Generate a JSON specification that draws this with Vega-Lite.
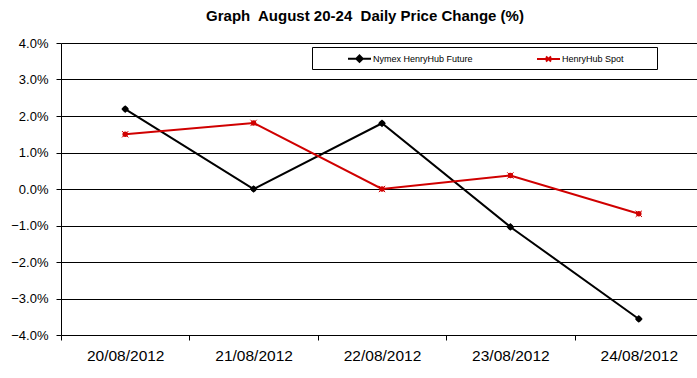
{
  "$schema": "https://vega.github.io/schema/vega-lite/v6.json",
  "autosize": "none",
  "width": 636,
  "height": 292,
  "padding": {"left": 61, "top": 43, "right": 0, "bottom": 43},
  "background": "white",
  "title": {
    "text": "Graph\u00a0 August 20-24\u00a0 Daily Price Change (%)",
    "font": "Liberation Sans",
    "fontSize": 15,
    "fontWeight": "bold",
    "color": "black",
    "anchor": "middle",
    "dx": -14,
    "offset": 13
  },
  "config": {
    "view": {"stroke": null},
    "axis": {
      "labelFont": "Liberation Sans",
      "labelColor": "black",
      "domainColor": "black",
      "tickColor": "black",
      "gridColor": "black",
      "gridOpacity": 1,
      "domainWidth": 1,
      "tickWidth": 1,
      "gridWidth": 1
    }
  },
  "data": {
    "values": [
      {"date": "20/08/2012", "series": "Nymex HenryHub Future", "change": 0.0219},
      {"date": "21/08/2012", "series": "Nymex HenryHub Future", "change": 0.0},
      {"date": "22/08/2012", "series": "Nymex HenryHub Future", "change": 0.018},
      {"date": "23/08/2012", "series": "Nymex HenryHub Future", "change": -0.0104},
      {"date": "24/08/2012", "series": "Nymex HenryHub Future", "change": -0.0356},
      {"date": "20/08/2012", "series": "HenryHub Spot", "change": 0.015},
      {"date": "21/08/2012", "series": "HenryHub Spot", "change": 0.0181},
      {"date": "22/08/2012", "series": "HenryHub Spot", "change": 0.0},
      {"date": "23/08/2012", "series": "HenryHub Spot", "change": 0.0037},
      {"date": "24/08/2012", "series": "HenryHub Spot", "change": -0.0068}
    ]
  },
  "encoding": {
    "x": {
      "field": "date",
      "type": "nominal",
      "sort": null,
      "scale": {"type": "band", "range": [0, 642], "paddingInner": 0, "paddingOuter": 0},
      "axis": {
        "title": null,
        "labelAngle": 0,
        "labelFontSize": 15.5,
        "labelPadding": 8,
        "tickBand": "extent",
        "tickSize": 5,
        "grid": false,
        "domain": true
      }
    },
    "y": {
      "field": "change",
      "type": "quantitative",
      "scale": {"domain": [-0.04, 0.04], "nice": false, "zero": false},
      "axis": {
        "title": null,
        "format": ".1%",
        "values": [-0.04, -0.03, -0.02, -0.01, 0, 0.01, 0.02, 0.03, 0.04],
        "labelFontSize": 13,
        "tickSize": 5,
        "labelPadding": 8,
        "grid": true
      }
    },
    "color": {
      "field": "series",
      "type": "nominal",
      "sort": ["Nymex HenryHub Future", "HenryHub Spot"],
      "scale": {"domain": ["Nymex HenryHub Future", "HenryHub Spot"], "range": ["#000000", "#d00000"]},
      "legend": {
        "title": "\u00a0",
        "titleOrient": "right",
        "titlePadding": 30,
        "titleFontSize": 9,
        "orient": "none",
        "legendX": 251,
        "legendY": 4,
        "direction": "horizontal",
        "strokeColor": "black",
        "fillColor": "white",
        "padding": 3,
        "labelFont": "Liberation Sans",
        "labelFontSize": 9,
        "labelColor": "black",
        "columnPadding": 31,
        "symbolSize": 207,
        "symbolStrokeWidth": 2,
        "symbolOpacity": 1,
        "symbolOffset": 36,
        "labelOffset": 5
      }
    },
    "shape": {
      "field": "series",
      "type": "nominal",
      "sort": ["Nymex HenryHub Future", "HenryHub Spot"],
      "scale": {
        "domain": ["Nymex HenryHub Future", "HenryHub Spot"],
        "range": ["M-1.6,0L1.6,0M0,-0.45L0.45,0L0,0.45L-0.45,0Z", "M-1.6,0L1.6,0M-0.35,-0.35L0.35,0.35M-0.35,0.35L0.35,-0.35"]
      }
    }
  },
  "layer": [
    {"mark": {"type": "line", "strokeWidth": 2}, "encoding": {"shape": {"value": null}}},
    {
      "mark": {"type": "point", "filled": false, "opacity": 0, "size": 20},
      "encoding": {}
    },
    {
      "mark": {"type": "point", "filled": true, "shape": "diamond", "size": 60, "opacity": 1},
      "encoding": {"shape": {"value": "diamond"}},
      "transform": [{"filter": "datum.series == 'Nymex HenryHub Future'"}]
    },
    {
      "mark": {"type": "point", "filled": false, "size": 40, "strokeWidth": 1, "opacity": 1},
      "encoding": {"shape": {"value": "M-1,-1L1,1M-1,1L1,-1"}},
      "transform": [{"filter": "datum.series == 'HenryHub Spot'"}]
    }
  ]
}
